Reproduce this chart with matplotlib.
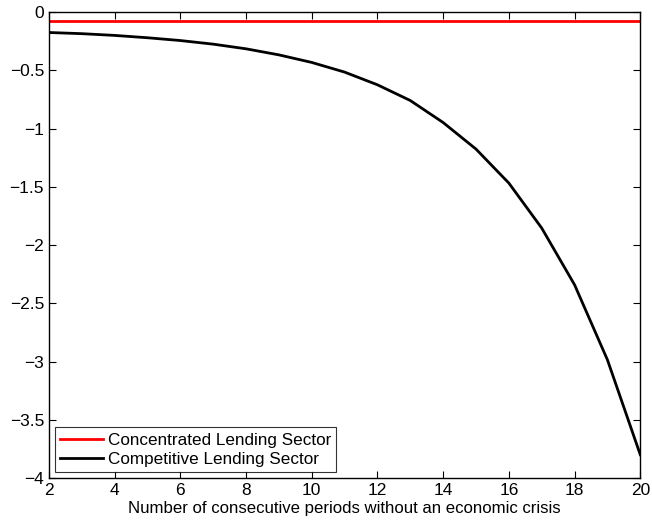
import numpy as np
import matplotlib
matplotlib.use("Agg")
import matplotlib.pyplot as plt

plt.rcParams['font.family'] = ['Liberation Sans', 'DejaVu Sans']

# data
periods = list(range(2, 21))
concentrated = [-0.08] * len(periods)
competitive = [-0.175, -0.185, -0.20, -0.22, -0.244, -0.275, -0.315, -0.367, -0.432,
               -0.515, -0.624, -0.759, -0.948, -1.176, -1.468, -1.854, -2.341, -2.985, -3.80]

fig = plt.figure(figsize=(6.52, 5.27), dpi=100)
ax = fig.add_axes([0.075, 0.093, 0.907, 0.884])

ax.plot(periods, concentrated, color='red', lw=2, label='Concentrated Lending Sector')
ax.plot(periods, competitive, color='black', lw=2, label='Competitive Lending Sector')

ax.set_xlim(2, 20)
ax.set_ylim(-4, 0)
ax.set_xticks(range(2, 21, 2))
ax.set_yticks(np.arange(-4, 0.01, 0.5))
ax.set_yticklabels(['\u22124', '\u22123.5', '\u22123', '\u22122.5', '\u22122',
                    '\u22121.5', '\u22121', '\u22120.5', '0'])
ax.tick_params(direction='in', top=True, right=True, labelsize=12.5, length=5, width=0.8)
for s in ax.spines.values():
    s.set_linewidth(1.0)

ax.set_xlabel('Number of consecutive periods without an economic crisis', fontsize=12.1, labelpad=2)

leg = ax.legend(loc='lower left', fontsize=12.3, frameon=True, fancybox=False,
                edgecolor='black', borderaxespad=0.35, handlelength=2.5,
                borderpad=0.3, labelspacing=0.25, handletextpad=0.3)
leg.get_frame().set_linewidth(0.8)

fig.savefig('out.png', dpi=100, facecolor='white')
